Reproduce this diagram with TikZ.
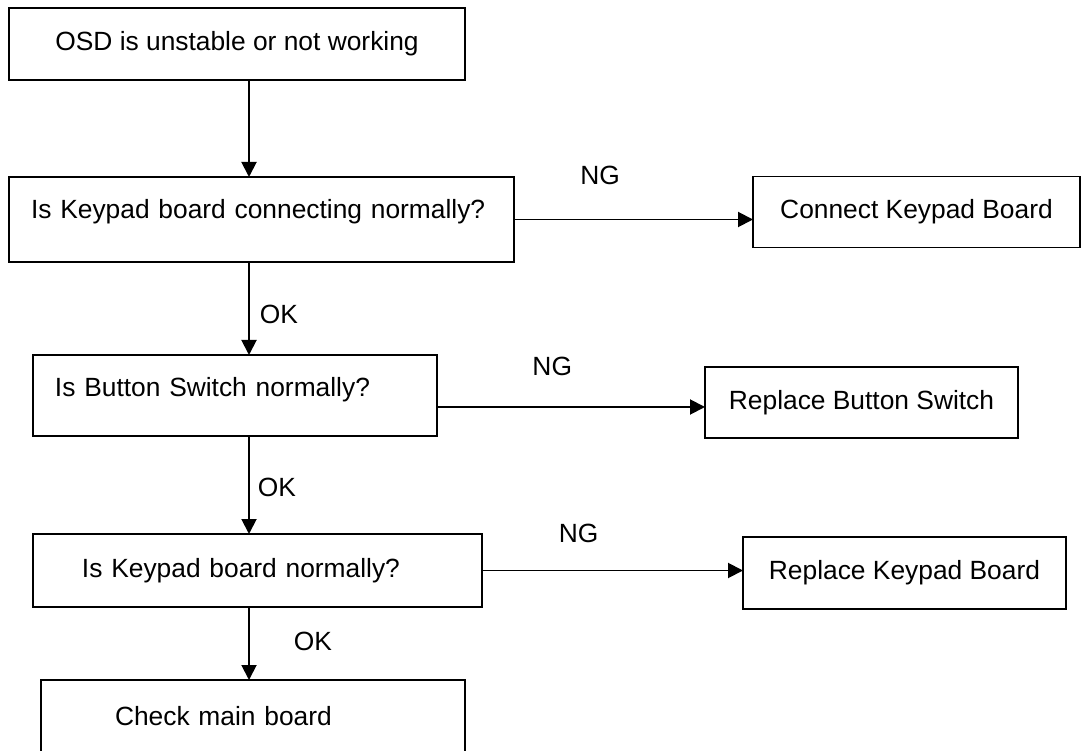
\documentclass[tikz,border=0pt]{standalone}
\usepackage{fontspec}
\setmainfont{Liberation Sans}
\usetikzlibrary{positioning,arrows.meta}
\tikzset{
  cutie/.style  = {draw, line width=1.1pt, inner ysep=0pt, outer sep=0pt, font=\fontsize{15}{18}\selectfont},
  stanga/.style = {cutie, align=left},
  marcaj/.style = {font=\fontsize{15}{18}\selectfont, inner sep=0pt},
  fir/.style    = {-{Triangle[length=3mm, width=3mm]}, line width=1.1pt}
}

\begin{document}
\begin{tikzpicture}
        \useasboundingbox (0,0) rectangle (21.68,-15.02);
        \coordinate (ax) at (4.98,0);

        \node[cutie, minimum width=9.12cm, minimum height=1.44cm, anchor=north west] (p1) at (0.18,-0.16) {OSD is unstable or not working};
        \node[stanga, text width=9.22cm, inner xsep=0.44cm, minimum height=1.70cm, text depth=0.41cm,
              below=1.94cm of p1.south west, anchor=north west] (p2) {Is Keypad board connecting normally?};
        \node[cutie, minimum width=6.54cm, minimum height=1.42cm, right=4.78cm of p2, yshift=0.15cm] (p3) {Connect Keypad Board};

        \node[stanga, text width=7.20cm, inner xsep=0.44cm, minimum height=1.62cm, text depth=0.33cm,
              below=1.86cm of p2.south west, anchor=north west, xshift=0.48cm] (p4) {Is Button Switch normally?};
        \node[cutie, minimum width=6.26cm, minimum height=1.42cm, right=5.36cm of p4, yshift=-0.14cm] (p5) {Replace Button Switch};

        \node[stanga, text width=7.02cm, inner xsep=0.98cm, minimum height=1.46cm,
              below=1.96cm of p4.south west, anchor=north west] (p6) {Is Keypad board normally?};
        \node[cutie, minimum width=6.46cm, minimum height=1.44cm, right=5.22cm of p6, yshift=-0.05cm] (p7) {Replace Keypad Board};

        \node[stanga, text width=5.52cm, inner xsep=1.48cm, minimum height=1.46cm,
              below=1.46cm of p6.south west, anchor=north west, xshift=0.16cm] (p8) {Check main board};

        \draw[fir] (p1.south -| ax) -- (p2.north -| ax);
        \draw[fir] (p2.south -| ax) -- node[marcaj, pos=0.56, right=0.2cm] (ok1) {OK} (p4.north -| ax);
        \draw[fir] (p4.south -| ax) -- node[marcaj, pos=0.52, right=0.16cm] (ok2) {OK} (p6.north -| ax);
        \draw[fir] (p6.south -| ax) -- node[marcaj, pos=0.47, right=0.88cm] (ok3) {OK} (p8.north -| ax);

        \draw[fir] (p2.east) -- node[marcaj, pos=0.36, above=0.67cm] (ng1) {NG} (p2.east -| p3.west);
        \coordinate (c4) at ([yshift=-0.23cm]p4.east);
        \draw[fir] (c4) -- node[marcaj, pos=0.43, above=0.60cm] (ng2) {NG} (c4 -| p5.west);
        \draw[fir] (p6.east) -- node[marcaj, pos=0.37, above=0.53cm] (ng3) {NG} (p6.east -| p7.west);
    \end{tikzpicture}
\end{document}
